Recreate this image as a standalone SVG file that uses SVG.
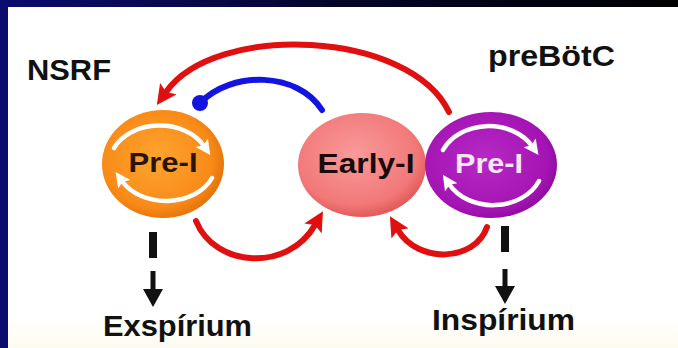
<svg xmlns="http://www.w3.org/2000/svg" width="678" height="348" viewBox="0 0 678 348">
  <defs>
    <linearGradient id="bg" x1="0" y1="0" x2="1" y2="0">
      <stop offset="0" stop-color="#0c0c70"/>
      <stop offset="0.5" stop-color="#05052a"/>
      <stop offset="1" stop-color="#000000"/>
    </linearGradient>
    <linearGradient id="panel" x1="0" y1="0" x2="0" y2="1">
      <stop offset="0" stop-color="#ffffff"/>
      <stop offset="0.9" stop-color="#ffffff"/>
      <stop offset="1" stop-color="#fdfbf0"/>
    </linearGradient>
    <radialGradient id="gOrange" cx="0.45" cy="0.45" r="0.6">
      <stop offset="0" stop-color="#ffa531"/>
      <stop offset="0.75" stop-color="#f88b18"/>
      <stop offset="1" stop-color="#e06c08"/>
    </radialGradient>
    <radialGradient id="gEarly" cx="0.45" cy="0.4" r="0.6">
      <stop offset="0" stop-color="#f99a9a"/>
      <stop offset="0.8" stop-color="#f27878"/>
      <stop offset="1" stop-color="#e35a5a"/>
    </radialGradient>
    <radialGradient id="gPurple" cx="0.45" cy="0.45" r="0.6">
      <stop offset="0" stop-color="#b62ac4"/>
      <stop offset="0.8" stop-color="#a414b4"/>
      <stop offset="1" stop-color="#8a0898"/>
    </radialGradient>
    <marker id="redHead" markerUnits="userSpaceOnUse" markerWidth="22" markerHeight="20" refX="4" refY="10" orient="auto">
      <path d="M0,0 L20,10 L0,20 L4,10 Z" fill="#e01010"/>
    </marker>
    <marker id="whiteHead" markerUnits="userSpaceOnUse" markerWidth="17" markerHeight="17" refX="4" refY="8.5" orient="auto">
      <path d="M0,1 L15,8.5 L0,16 L3,8.5 Z" fill="#ffffff"/>
    </marker>
    <style>
      .lbl { font-family: "Liberation Sans", Arial, sans-serif; font-weight: bold; }
      .red { fill: none; stroke: #e01010; stroke-width: 6; stroke-linecap: round; }
      .blue { fill: none; stroke: #1414e0; stroke-width: 6; stroke-linecap: round; }
      .warr { fill: none; stroke: #ffffff; stroke-width: 4.5; stroke-linecap: round; }
    </style>
  </defs>

  <rect x="0" y="0" width="678" height="348" fill="url(#bg)"/>
  <rect x="8" y="7" width="670" height="341" fill="url(#panel)"/>

  <text class="lbl" x="27" y="80" font-size="29" fill="#111" textLength="84" lengthAdjust="spacingAndGlyphs">NSRF</text>
  <text class="lbl" x="488" y="66" font-size="29" fill="#111" textLength="127" lengthAdjust="spacingAndGlyphs">preBötC</text>

  <g id="connectors">
    <path class="red" d="M449,112 C 410,30 215,22 166,92" marker-end="url(#redHead)"/>
    <path class="blue" d="M322,110 C 298,72 232,70 200,103"/>
    <circle cx="200" cy="103" r="8" fill="#1414e0"/>
    <path class="red" d="M196,221 C 215,268 288,272 315,225" marker-end="url(#redHead)"/>
    <path class="red" d="M487,227 C 475,262 418,264 398,230" marker-end="url(#redHead)"/>
    <rect x="149" y="232" width="8" height="26" fill="#111"/>
    <rect x="150.5" y="271" width="5" height="20" fill="#111"/>
    <path d="M143,289 L163,289 L153,307 Z" fill="#111"/>
    <rect x="501" y="226" width="8" height="26" fill="#111"/>
    <rect x="502.5" y="269" width="5" height="19" fill="#111"/>
    <path d="M495,286 L515,286 L505,304 Z" fill="#111"/>
  </g>

  <g id="node-nsrf-prei">
    <ellipse cx="163" cy="164" rx="61" ry="54" fill="url(#gOrange)"/>
    <path class="warr" d="M114,148 A50,38 0 0 1 204,146" marker-end="url(#whiteHead)"/>
    <path class="warr" d="M212,178 A50,38 0 0 1 122,181" marker-end="url(#whiteHead)"/>
    <text class="lbl" x="163" y="172" font-size="28" fill="#2a1508" text-anchor="middle" textLength="69" lengthAdjust="spacingAndGlyphs">Pre-I</text>
  </g>

  <g id="node-early-i">
    <ellipse cx="362" cy="165" rx="64" ry="52" fill="url(#gEarly)"/>
    <text class="lbl" x="366" y="173" font-size="28" fill="#1a0a0a" text-anchor="middle" textLength="97" lengthAdjust="spacingAndGlyphs">Early-I</text>
  </g>

  <g id="node-prebotc-prei">
    <ellipse cx="491" cy="165" rx="66" ry="53" fill="url(#gPurple)"/>
    <path class="warr" d="M443,150 A50,40 0 0 1 532,146" marker-end="url(#whiteHead)"/>
    <path class="warr" d="M539,181 A50,40 0 0 1 449,184" marker-end="url(#whiteHead)"/>
    <text class="lbl" x="489" y="173" font-size="28" fill="#f6e6f6" text-anchor="middle" textLength="68" lengthAdjust="spacingAndGlyphs">Pre-I</text>
  </g>

  <text class="lbl" x="103" y="336" font-size="29" fill="#111" textLength="149" lengthAdjust="spacingAndGlyphs">Exspírium</text>
  <text class="lbl" x="432" y="330" font-size="29" fill="#111" textLength="143" lengthAdjust="spacingAndGlyphs">Inspírium</text>
</svg>
